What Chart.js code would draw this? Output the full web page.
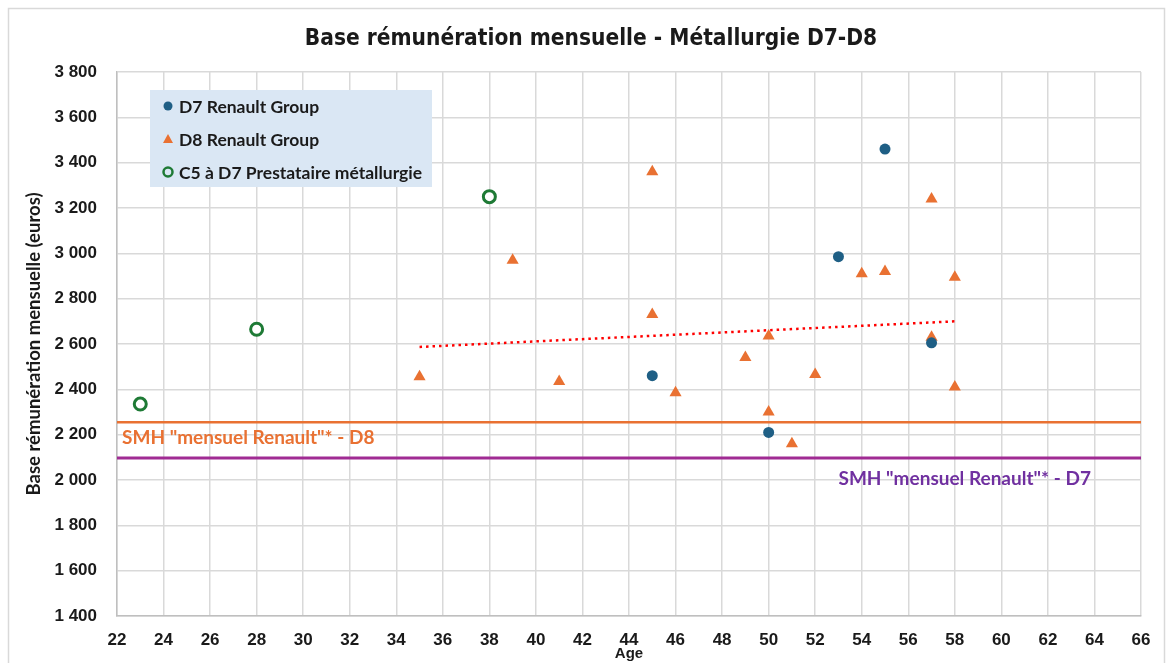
<!DOCTYPE html>
<html>
<head>
<meta charset="utf-8">
<script src="https://cdn.jsdelivr.net/npm/chart.js@4"></script>
<style>
  html, body { margin: 0; padding: 0; background: #fff; }
  #wrap { position: relative; width: 1171px; height: 663px; }
</style>
</head>
<body>
<div id="wrap"><canvas id="graphique" width="1171" height="663"></canvas></div>
<script>
// Données
var d7Ages = [45, 50, 53, 55, 57];
var d7Salaires = [2460, 2210, 2985, 3460, 2605];

var d8Ages = [35, 39, 41, 45, 45, 46, 49, 50, 50, 51, 52, 54, 55, 57, 57, 58, 58];
var d8Salaires = [2455, 2970, 2435, 3360, 2730, 2385, 2540, 2635, 2300, 2160, 2465, 2910, 2920, 3240, 2630, 2895, 2410];

var c5Ages = [23, 28, 38];
var c5Salaires = [2335, 2665, 3250];

// courbe de tendance (D8), relevée aux deux extrémités
var tendanceAges = [35, 58];
var tendanceSalaires = [2587, 2700];

// SMH "mensuel Renault"
var smhAges = [22, 66];
var smhD8 = 2255;
var smhD7 = 2097;

var yTicks = [1400, 1600, 1800, 2000, 2200, 2400, 2600, 2800, 3000, 3200, 3400, 3600, 3800];

function points(xs, ys) {
    return xs.map(function (x, i) { return { x: x, y: ys[i] }; });
}

function formatMilliers(v) {
    return String(v).replace(/\B(?=(\d{3})+(?!\d))/g, ' ');
}

var cadre = {
    id: 'cadre',
    beforeDraw: function (chart) {
        var c = chart.ctx;
        c.save();
        c.fillStyle = '#fff';
        c.fillRect(0, 0, chart.width, chart.height);
        c.strokeStyle = '#d9d9d9';
        c.lineWidth = 1.5;
        c.strokeRect(8.5, 8.5, 1156, 700);
        c.restore();
    }
};

var etiquettes = {
    id: 'etiquettes',
    afterDatasetsDraw: function (chart) {
        var c = chart.ctx;
        var xs = chart.scales.x, ys = chart.scales.y;
        c.save();
        c.font = 'bold 19px Lato';
        c.textBaseline = 'middle';
        c.textAlign = 'left';
        c.fillStyle = '#e97132';
        c.fillText('SMH "mensuel Renault"* - D8', xs.getPixelForValue(22) + 5, ys.getPixelForValue(smhD8) + 16);
        c.fillStyle = '#7030a0';
        c.fillText('SMH "mensuel Renault"* - D7', xs.getPixelForValue(53), ys.getPixelForValue(smhD7) + 21);
        c.restore();
    }
};

var legende = {
    id: 'legende',
    afterDatasetsDraw: function (chart) {
        var c = chart.ctx;
        var x0 = 150, y0 = 90;
        c.save();
        c.fillStyle = '#dae7f4';
        c.fillRect(x0, y0, 282, 97);
        var items = [
            { txt: 'D7 Renault Group', forme: 'rond' },
            { txt: 'D8 Renault Group', forme: 'tri' },
            { txt: 'C5 à D7 Prestataire métallurgie', forme: 'anneau' }
        ];
        c.font = 'bold 17.5px Lato';
        c.textBaseline = 'middle';
        items.forEach(function (it, i) {
            var cy = y0 + 16 + i * 33;
            var cx = x0 + 18;
            if (it.forme === 'rond') {
                c.fillStyle = '#1f5f85';
                c.beginPath(); c.arc(cx, cy, 4.5, 0, Math.PI * 2); c.fill();
            } else if (it.forme === 'tri') {
                c.fillStyle = '#e97132';
                c.beginPath(); c.moveTo(cx, cy - 5); c.lineTo(cx + 5, cy + 4); c.lineTo(cx - 5, cy + 4); c.closePath(); c.fill();
            } else {
                c.strokeStyle = '#1e7a35';
                c.lineWidth = 2.5;
                c.beginPath(); c.arc(cx, cy, 4.5, 0, Math.PI * 2); c.stroke();
            }
            c.fillStyle = '#1a1a1a';
            c.fillText(it.txt, cx + 11, cy + 1);
        });
        c.restore();
    }
};

var ctx = document.getElementById('graphique').getContext('2d');
var graphique = new Chart(ctx, {
    type: 'scatter',
    data: {
        datasets: [{
            label: 'D7 Renault Group',
            data: points(d7Ages, d7Salaires),
            pointStyle: 'circle',
            pointRadius: 5.5,
            backgroundColor: '#1f5f85',
            borderColor: '#1f5f85',
            borderWidth: 0
        }, {
            label: 'D8 Renault Group',
            data: points(d8Ages, d8Salaires),
            pointStyle: 'triangle',
            pointRadius: 7,
            backgroundColor: '#e97132',
            borderColor: '#e97132',
            borderWidth: 0
        }, {
            label: 'C5 à D7 Prestataire métallurgie',
            data: points(c5Ages, c5Salaires),
            pointStyle: 'circle',
            pointRadius: 6,
            backgroundColor: '#ffffff',
            borderColor: '#1e7a35',
            borderWidth: 3
        }, {
            type: 'line',
            label: 'Tendance D8',
            data: points(tendanceAges, tendanceSalaires),
            borderColor: '#ff0000',
            borderWidth: 2.5,
            borderDash: [2.5, 4],
            pointRadius: 0,
            fill: false
        }, {
            type: 'line',
            label: 'SMH D8',
            data: points(smhAges, [smhD8, smhD8]),
            borderColor: '#e97132',
            borderWidth: 2.5,
            pointRadius: 0,
            fill: false
        }, {
            type: 'line',
            label: 'SMH D7',
            data: points(smhAges, [smhD7, smhD7]),
            borderColor: '#a02b93',
            borderWidth: 3,
            pointRadius: 0,
            fill: false
        }]
    },
    options: {
        responsive: false,
        animation: false,
        layout: { padding: { left: 41, right: 30, top: 0, bottom: 0 } },
        plugins: {
            legend: { display: false },
            tooltip: { enabled: false },
            title: {
                display: true,
                text: 'Base rémunération mensuelle - Métallurgie D7-D8',
                color: '#1a1a1a',
                font: { family: '"Liberation Sans Narrow", "DejaVu Sans Condensed", sans-serif', size: 22.5, weight: 'bold' },
                padding: { top: 26, bottom: 19 }
            }
        },
        scales: {
            x: {
                type: 'linear',
                min: 22,
                max: 66,
                ticks: {
                    stepSize: 2,
                    color: '#1a1a1a',
                    padding: 14,
                    maxRotation: 0,
                    font: { family: '"Liberation Sans", Arial, sans-serif', size: 17, weight: 'bold' }
                },
                grid: { color: '#d9d9d9', lineWidth: 1.5, drawTicks: false },
                border: { color: '#bfbfbf', width: 1.5 },
                title: {
                    display: true,
                    text: 'Age',
                    color: '#1a1a1a',
                    padding: { top: 0, bottom: 0 },
                    font: { family: '"Liberation Sans Narrow", sans-serif', size: 15, weight: 'bold' }
                },
                afterFit: function (s) { s.height = 47; }
            },
            y: {
                min: 1400,
                max: 3800,
                afterBuildTicks: function (s) { s.ticks = yTicks.map(function (v) { return { value: v }; }); },
                ticks: {
                    color: '#1a1a1a',
                    padding: 20,
                    font: { family: '"Liberation Sans", Arial, sans-serif', size: 17, weight: 'bold' },
                    callback: function (v) { return formatMilliers(v); }
                },
                grid: { color: '#d9d9d9', lineWidth: 1.5, drawTicks: false },
                border: { color: '#bfbfbf', width: 1.5 },
                title: {
                    display: true,
                    text: 'Base rémunération mensuelle (euros)',
                    color: '#1a1a1a',
                    padding: { top: -18, bottom: 0 },
                    font: { family: 'Lato', size: 18.5, weight: 'bold' }
                },
                afterFit: function (s) { s.width = 76; }
            }
        }
    },
    plugins: [cadre, etiquettes, legende]
});
</script>
</body>
</html>
